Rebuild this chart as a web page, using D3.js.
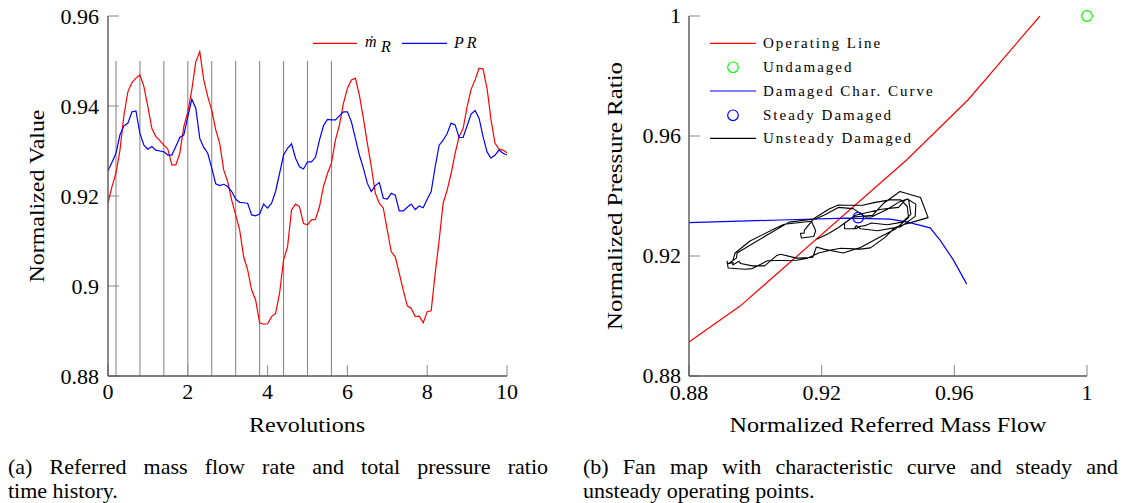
<!DOCTYPE html>
<html><head><meta charset="utf-8">
<script src="https://cdn.jsdelivr.net/npm/d3@7"></script>
<style>body{margin:0;background:#fff}svg{display:block}
.serif{font-family:"Liberation Serif","Times New Roman",Tinos,"DejaVu Serif","Noto Serif",FreeSerif,serif}</style>
</head><body>
<svg id="c" width="1122" height="503"></svg>
<script>
// ---------- DATA ----------
const revolutions = d3.range(0, 101).map(i => i / 10);
const massFlow = [0.9185,0.9221,0.9251,0.9302,0.9380,0.9432,0.9452,0.9462,0.9469,0.9443,
0.9398,0.9350,0.9332,0.9323,0.9313,0.9304,0.9269,0.9269,0.9295,0.9354,
0.9387,0.9436,0.9498,0.9521,0.9458,0.9421,0.9391,0.9347,0.9317,0.9258,
0.9232,0.9191,0.9158,0.9124,0.9065,0.9036,0.8991,0.8969,0.8918,0.8915,
0.8916,0.8932,0.8939,0.8984,0.9058,0.9087,0.9169,0.9182,0.9176,0.9139,
0.9136,0.9147,0.9148,0.9176,0.9221,0.9250,0.9273,0.9324,0.9358,0.9406,
0.9439,0.9458,0.9462,0.9424,0.9373,0.9317,0.9265,0.9206,0.9184,0.9173,
0.9124,0.9076,0.9065,0.9028,0.8991,0.8956,0.8950,0.8932,0.8933,0.8918,
0.8943,0.8945,0.9028,0.9102,0.9184,0.9213,0.9250,0.9295,0.9332,0.9350,
0.9398,0.9437,0.9458,0.9484,0.9482,0.9439,0.9369,0.9317,0.9304,0.9302,0.9296];
const pressureRatio = [0.9256,0.9275,0.9295,0.9336,0.9356,0.9362,0.9387,0.9389,0.9339,0.9313,
0.9304,0.9310,0.9302,0.9300,0.9298,0.9291,0.9291,0.9310,0.9330,0.9336,
0.9376,0.9415,0.9395,0.9328,0.9308,0.9295,0.9262,0.9227,0.9223,0.9226,
0.9221,0.9210,0.9193,0.9186,0.9185,0.9184,0.9158,0.9156,0.9160,0.9182,
0.9173,0.9184,0.9210,0.9250,0.9291,0.9306,0.9316,0.9284,0.9265,0.9260,
0.9276,0.9276,0.9286,0.9324,0.9356,0.9370,0.9369,0.9369,0.9378,0.9387,
0.9387,0.9365,0.9328,0.9291,0.9262,0.9228,0.9210,0.9223,0.9230,0.9195,
0.9193,0.9206,0.9202,0.9167,0.9167,0.9175,0.9182,0.9170,0.9178,0.9174,
0.9193,0.9210,0.9265,0.9313,0.9324,0.9339,0.9362,0.9358,0.9330,0.9330,
0.9356,0.9382,0.9390,0.9373,0.9332,0.9298,0.9284,0.9291,0.9302,0.9295,0.9291];
const markerRevs = [0.2,0.8,1.4,2.0,2.6,3.2,3.8,4.4,5.0,5.6];
const leftXTicks = [0,2,4,6,8,10];
const leftYTicks = [0.88,0.90,0.92,0.94,0.96];

const opFlow = [0.88,0.8954,0.9456,0.9641,0.9858];
const opPR   = [0.8913,0.9033,0.9520,0.9720,1.0000];
const charFlow = [0.88,0.9074,0.9275,0.9406,0.9456,0.9527,0.9557,0.9597,0.9637];
const charPR   = [0.9311,0.9320,0.9326,0.9323,0.9314,0.9294,0.9253,0.9187,0.9107];
const undamaged = [1.0,1.0];
const steadyDamaged = [0.9310,0.9328];
const rightXTicks = [0.88,0.92,0.96,1.0];
const rightYTicks = [0.88,0.92,0.96,1.0];

// ---------- DRAW ----------
const svg = d3.select("#c");
const AX = "#555", TK = "#9a9a9a";

function fmt(v){ return (+v.toFixed(2)).toString(); }

// LEFT chart
const xL = d3.scaleLinear().domain([0,10]).range([108,507]);
const yL = d3.scaleLinear().domain([0.88,0.96]).range([376,16]);
const gL = svg.append("g");
gL.append("clipPath").attr("id","clipL").append("rect").attr("x",108).attr("y",16).attr("width",399).attr("height",360);

gL.selectAll("line.mk").data(markerRevs).join("line")
  .attr("x1",d=>xL(d)).attr("x2",d=>xL(d)).attr("y1",yL(0.95)).attr("y2",yL(0.88))
  .attr("stroke","#8a8a8a").attr("stroke-width",1.1);

gL.selectAll("line.yt").data(leftYTicks).join("line")
  .attr("x1",108).attr("x2",119).attr("y1",d=>yL(d)).attr("y2",d=>yL(d))
  .attr("stroke",TK).attr("stroke-width",1.2);
gL.selectAll("line.xt").data(leftXTicks).join("line")
  .attr("x1",d=>xL(d)).attr("x2",d=>xL(d)).attr("y1",376).attr("y2",365)
  .attr("stroke",TK).attr("stroke-width",1.2);

const lineL = d3.line().x((d,i)=>xL(revolutions[i])).y(d=>yL(d));
const gLd = gL.append("g").attr("clip-path","url(#clipL)");
gLd.append("path").attr("d",lineL(massFlow)).attr("fill","none").attr("stroke","#ff0000").attr("stroke-width",1.2);
gLd.append("path").attr("d",lineL(pressureRatio)).attr("fill","none").attr("stroke","#0000ff").attr("stroke-width",1.2);

gL.append("line").attr("x1",108).attr("x2",108).attr("y1",16).attr("y2",376).attr("stroke",AX).attr("stroke-width",1.4);
gL.append("line").attr("x1",108).attr("x2",507).attr("y1",376).attr("y2",376).attr("stroke",AX).attr("stroke-width",1.4);

gL.selectAll("text.yl").data(leftYTicks).join("text").attr("class","serif")
  .attr("x",99).attr("y",d=>yL(d)).attr("dy","0.35em").attr("text-anchor","end")
  .attr("font-size",22).text(d=>fmt(d));
gL.selectAll("text.xl").data(leftXTicks).join("text").attr("class","serif")
  .attr("x",d=>xL(d)).attr("y",399).attr("text-anchor","middle")
  .attr("font-size",22).text(d=>d);

gL.append("text").attr("class","serif").attr("x",307).attr("y",432).attr("text-anchor","middle")
  .attr("font-size",22).attr("textLength",116).attr("lengthAdjust","spacingAndGlyphs").text("Revolutions");
gL.append("text").attr("class","serif").attr("transform","translate(44,196) rotate(-90)").attr("text-anchor","middle")
  .attr("font-size",22).attr("textLength",173).attr("lengthAdjust","spacingAndGlyphs").text("Normalized Value");

gL.append("line").attr("x1",313).attr("x2",357).attr("y1",43.3).attr("y2",43.3).attr("stroke","#ff0000").attr("stroke-width",1.2);
gL.append("text").attr("class","serif").attr("x",365).attr("y",47).attr("font-style","italic").attr("font-size",16).text("ṁ");
gL.append("text").attr("class","serif").attr("x",381).attr("y",52).attr("font-style","italic").attr("font-size",16).text("R");
gL.append("line").attr("x1",402).attr("x2",447).attr("y1",43.3).attr("y2",43.3).attr("stroke","#0000ff").attr("stroke-width",1.2);
gL.append("text").attr("class","serif").attr("x",454).attr("y",48).attr("font-style","italic").attr("font-size",16).attr("letter-spacing",3).text("PR");

// RIGHT chart
const xR = d3.scaleLinear().domain([0.88,1.0]).range([689,1087]);
const yR = d3.scaleLinear().domain([0.88,1.0]).range([376,16]);
const gR = svg.append("g");
gR.append("clipPath").attr("id","clipR").append("rect").attr("x",689).attr("y",16).attr("width",398).attr("height",360);

gR.selectAll("line.yt").data(rightYTicks).join("line")
  .attr("x1",689).attr("x2",700).attr("y1",d=>yR(d)).attr("y2",d=>yR(d))
  .attr("stroke",TK).attr("stroke-width",1.2);
gR.selectAll("line.xt").data(rightXTicks).join("line")
  .attr("x1",d=>xR(d)).attr("x2",d=>xR(d)).attr("y1",376).attr("y2",365)
  .attr("stroke",TK).attr("stroke-width",1.2);

const gRd = gR.append("g").attr("clip-path","url(#clipR)");
const lineXY = d3.line().x(d=>xR(d[0])).y(d=>yR(d[1]));
gRd.append("path").attr("d",lineXY(opFlow.map((f,i)=>[f,opPR[i]]))).attr("fill","none").attr("stroke","#ff0000").attr("stroke-width",1.2);
gRd.append("path").attr("d",lineXY(charFlow.map((f,i)=>[f,charPR[i]]))).attr("fill","none").attr("stroke","#0000ff").attr("stroke-width",1.2);
gRd.append("path").attr("d",lineXY(massFlow.map((f,i)=>[f,pressureRatio[i]]))).attr("fill","none").attr("stroke","#000").attr("stroke-width",1.1).attr("stroke-linejoin","round");
gR.append("circle").attr("cx",xR(steadyDamaged[0])).attr("cy",yR(steadyDamaged[1])).attr("r",5.3).attr("fill","none").attr("stroke","#0000ff").attr("stroke-width",1.2);
gR.append("circle").attr("cx",xR(undamaged[0])).attr("cy",yR(undamaged[1])).attr("r",5.3).attr("fill","none").attr("stroke","#00ff00").attr("stroke-width",1.2);

gR.append("line").attr("x1",689).attr("x2",689).attr("y1",16).attr("y2",376).attr("stroke",AX).attr("stroke-width",1.4);
gR.append("line").attr("x1",689).attr("x2",1087).attr("y1",376).attr("y2",376).attr("stroke",AX).attr("stroke-width",1.4);

gR.selectAll("text.yl").data(rightYTicks).join("text").attr("class","serif")
  .attr("x",681).attr("y",d=>yR(d)).attr("dy","0.33em").attr("text-anchor","end")
  .attr("font-size",22).text(d=>fmt(d));
gR.selectAll("text.xl").data(rightXTicks).join("text").attr("class","serif")
  .attr("x",d=>xR(d)).attr("y",400).attr("text-anchor","middle")
  .attr("font-size",22).text(d=>fmt(d));

gR.append("text").attr("class","serif").attr("x",888).attr("y",432).attr("text-anchor","middle")
  .attr("font-size",22).attr("textLength",317).attr("lengthAdjust","spacingAndGlyphs").text("Normalized Referred Mass Flow");
gR.append("text").attr("class","serif").attr("transform","translate(622,196) rotate(-90)").attr("text-anchor","middle")
  .attr("font-size",22).attr("textLength",268).attr("lengthAdjust","spacingAndGlyphs").text("Normalized Pressure Ratio");

const legItems = [
  {label:"Operating Line", type:"line", color:"#ff0000"},
  {label:"Undamaged", type:"circle", color:"#00ff00"},
  {label:"Damaged Char. Curve", type:"line", color:"#0000ff"},
  {label:"Steady Damaged", type:"circle", color:"#0000ff"},
  {label:"Unsteady Damaged", type:"line", color:"#000000"}
];
const legY = [43.3,67.3,91,115.3,138.3];
legItems.forEach((it,i)=>{
  const y = legY[i];
  if(it.type==="line") gR.append("line").attr("x1",710).attr("x2",756).attr("y1",y).attr("y2",y).attr("stroke",it.color).attr("stroke-width",1.2);
  else gR.append("circle").attr("cx",733).attr("cy",y).attr("r",5.3).attr("fill","none").attr("stroke",it.color).attr("stroke-width",1.2);
  gR.append("text").attr("class","serif").attr("x",763).attr("y",y+5).attr("font-size",15).attr("letter-spacing",2).text(it.label);
});

function justified(x, y, width, str){
  const t = svg.append("text").attr("class","serif").attr("x",x).attr("y",y).attr("font-size",22).text(str);
  if(width){
    const nat = t.node().getComputedTextLength();
    const spaces = (str.match(/ /g)||[]).length;
    if(spaces>0) t.attr("word-spacing", (width-nat)/spaces);
  }
}
justified(8, 474, 540, "(a) Referred mass flow rate and total pressure ratio");
justified(8, 498, null, "time history.");
justified(583, 474, 535, "(b) Fan map with characteristic curve and steady and");
justified(583, 498, null, "unsteady operating points.");
</script>
</body></html>
